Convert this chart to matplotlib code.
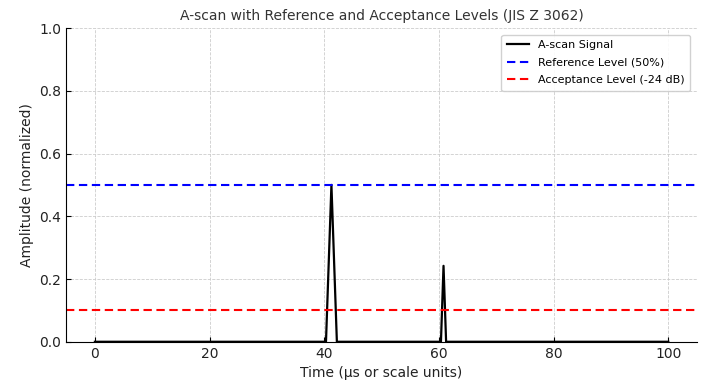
import matplotlib
matplotlib.use("Agg")
import matplotlib.pyplot as plt

# A-scan trace (time in µs or scale units, normalized amplitude)
time = [0, 40.3, 41.25, 42.2, 60.35, 60.8, 61.25, 100]
amplitude = [0, 0, 0.5, 0, 0, 0.242, 0, 0]

reference_level = 0.5
acceptance_level = 0.1

fig, ax = plt.subplots(figsize=(7.2, 3.84), dpi=100)

ax.plot(time, amplitude, color='black', linewidth=1.6, label='A-scan Signal')
ax.axhline(reference_level, color='blue', linestyle='--', linewidth=1.5,
           dashes=(4, 2.2), label='Reference Level (50%)')
ax.axhline(acceptance_level, color='red', linestyle='--', linewidth=1.5,
           dashes=(4, 2.2), label='Acceptance Level (-24 dB)')

ax.set_xlim(-5, 105)
ax.set_ylim(0, 1.0)
ax.set_title('A-scan with Reference and Acceptance Levels (JIS Z 3062)', fontsize=10, color='#333333')
ax.set_xlabel('Time (µs or scale units)', fontsize=10, color='#222222')
ax.set_ylabel('Amplitude (normalized)', fontsize=10, color='#222222')
ax.tick_params(direction='in', labelsize=10, labelcolor='#222222')
ax.spines['top'].set_visible(False)
ax.spines['right'].set_visible(False)
ax.grid(True, linestyle='--', color='#cccccc', linewidth=0.6)
ax.legend(loc='upper right', fontsize=8, framealpha=0.9, borderaxespad=0.6,
          labelspacing=0.68, borderpad=0.5)

fig.subplots_adjust(left=0.092, right=0.968, top=0.927, bottom=0.11)
fig.savefig('out.png', dpi=100)
